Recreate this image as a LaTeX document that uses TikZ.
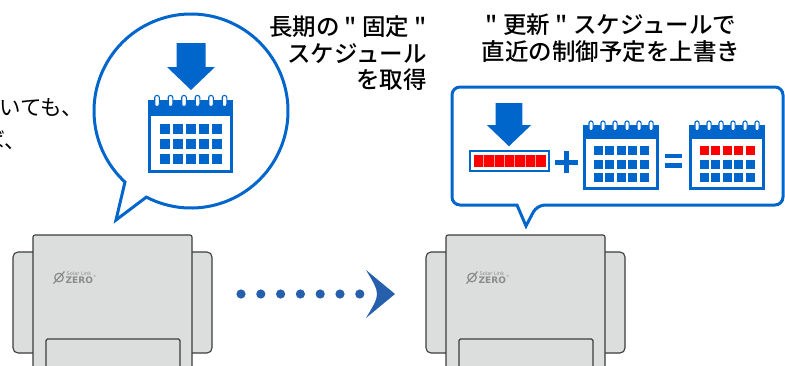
\documentclass[tikz,border=0pt]{standalone}
\usepackage{fontspec}
\newfontfamily\jp{Noto Sans CJK JP}[BoldFont={Noto Sans CJK JP Medium}]
\newfontfamily\logofont{DejaVu Sans}
\usetikzlibrary{calc}

\definecolor{calblue}{RGB}{0,102,204}
\definecolor{dotblue}{RGB}{38,96,172}
\definecolor{unitgray}{RGB}{220,221,221}
\definecolor{unitline}{RGB}{60,60,60}
\definecolor{logogray}{RGB}{138,138,138}
\definecolor{segpink}{RGB}{255,160,160}

\tikzset{
  bubble/.style={draw=calblue, line width=3pt, fill=white, line join=miter},
  caption/.style={inner sep=0pt, text=black, font=\jp\bfseries\fontsize{23.5}{26.5}\selectfont},
  remark/.style={inner sep=0pt, text=black, font=\jp\fontsize{21.5}{21.5}\selectfont},
  % calendar icon, 85 x 73, origin at the top left of the header band; #1 = top row colour
  pics/calicon/.style={code={
    \filldraw[fill=white, draw=calblue, line width=3.2pt] (1.6,1.6) rectangle (83.4,71.4);
    \fill[calblue] (0,0) rectangle (85,16);
    \foreach \rx in {9,22.5,36,49.5,63,76.5}
      \filldraw[fill=white, draw=calblue, line width=1.1pt, rounded corners=2pt]
        (\rx-2.3,-4.5) rectangle (\rx+2.3,6.5);
    \foreach \cx in {0,...,4} {
      \fill[#1] (12+13*\cx,24) rectangle ++(10,10);
      \fill[calblue] (12+13*\cx,39) rectangle ++(10,10);
      \fill[calblue] (12+13*\cx,54) rectangle ++(10,10);
    }
  }},
  pics/calicon/.default=calblue,
  % thick download arrow, origin at the top centre of the shaft
  pics/downarrow/.style={code={
    \fill[calblue] (-14.5,0) -- (14.5,0) -- (14.5,24) -- (24,24) -- (0,47)
      -- (-24,24) -- (-14.5,24) -- cycle;
  }},
  % controller unit, origin at the top left of the main housing
  pics/unit/.style={code={
    \filldraw[fill=unitgray, draw=unitline, line width=1.1pt, rounded corners=5pt]
      (-20,17) rectangle (10,118);
    \filldraw[fill=unitgray, draw=unitline, line width=1.1pt, rounded corners=5pt]
      (149,17) rectangle (179,118);
    \filldraw[fill=unitgray, draw=unitline, line width=1.1pt, rounded corners=2pt]
      (0,140) -- (0,0) -- (159,0) -- (159,140);
    \draw[unitline, line width=1.1pt, rounded corners=1.5pt]
      (13,140) -- (13,104) -- (147,104) -- (147,140);
    \draw[logogray, line width=1.2pt] (26,42.5) circle (4.3);
    \draw[logogray, line width=1.2pt] (20.5,48.5) -- (31.5,36.5);
    \node[inner sep=0pt, anchor=west, text=logogray, font=\logofont\fontsize{5}{5}\selectfont]
      (brand) at (33.5,38.2) {Solar Link};
    \node[inner sep=0pt, anchor=west, text=logogray, font=\logofont\bfseries\fontsize{9}{9}\selectfont]
      (model) at (32.5,45.5) {ZERO};
    \node[inner sep=0pt, anchor=west, text=logogray, font=\logofont\fontsize{3}{3}\selectfont]
      (regmark) at (model.north east) {®};
  }}
}

\begin{document}
\begin{tikzpicture}[x=1pt, y=-1pt]
  \path[use as bounding box] (0,0) rectangle (785,365);
  \fill[white] (0,0) rectangle (785,365);
  \clip (0,0) rectangle (785,365);

  % text running in from the left
  \node[remark, anchor=base west] (remarkA) at (-0.5,115) {いても、};
  \node[remark, anchor=base west] (remarkB) at (-17,148) {ば、};

  % round speech bubble with the fixed schedule
  \draw[bubble] ($(191,111)+(117.4:97)$) arc[start angle=117.4, end angle=-227.1, radius=97]
    -- (116,220) -- cycle;
  \pic at (191,43) {downarrow};
  \pic at (148,100) {calicon};

  \node[caption, anchor=north east, align=right] (fixedcap) at (427,15.5)
    {長期の " 固定 "\\スケジュール\\を取得};

  % rectangular speech bubble with the update
  \draw[bubble, rounded corners=8pt] (517,205) -- (452,205) -- (452,87) -- (783,87)
    -- (783,205) -- (537,205) [sharp corners] -- (526,226) -- cycle;
  \node[caption, anchor=north, align=center] (updatecap) at (611,14)
    {" 更新 " スケジュールで\\直近の制御予定を上書き};

  \pic[scale=0.92] at (509,103) {downarrow};
  \draw[calblue, line width=2.4pt, fill=white] (470,151) rectangle (549,171);
  \fill[red] (473.5,155) rectangle (545.5,167);
  \foreach \i in {1,...,6}
    \draw[segpink, line width=0.8pt] (473.5+\i*72/7,155) -- ++(0,12);

  % plus sign
  \fill[calblue] (555,159.5) rectangle (578,164.5);
  \fill[calblue] (564,151) rectangle (569,173);
  \pic[scale=0.89] at (583,125) {calicon};

  % equals sign
  \fill[calblue] (665,153.5) rectangle (682,158);
  \fill[calblue] (665,163) rectangle (682,167.5);
  \pic[scale=0.89] at (689,125) {calicon=red};

  % the two controller units
  \pic (unitA) at (33,235) {unit};
  \pic (unitB) at (446,235) {unit};

  % dotted transition arrow
  \coordinate (flowstart) at (241,294);
  \coordinate (flowtip) at (395,294);
  \foreach \i in {0,...,6}
    \fill[dotblue] ($(flowstart)+(19.8*\i,0)$) circle (4.6);
  \fill[dotblue] ($(flowtip)+(-29,-24)$) -- (flowtip) -- ($(flowtip)+(-29,24)$)
    .. controls ($(flowtip)+(-21,11)$) and ($(flowtip)+(-18,5)$) .. ($(flowtip)+(-18,0)$)
    .. controls ($(flowtip)+(-18,-5)$) and ($(flowtip)+(-21,-11)$) .. cycle;
\end{tikzpicture}
\end{document}
